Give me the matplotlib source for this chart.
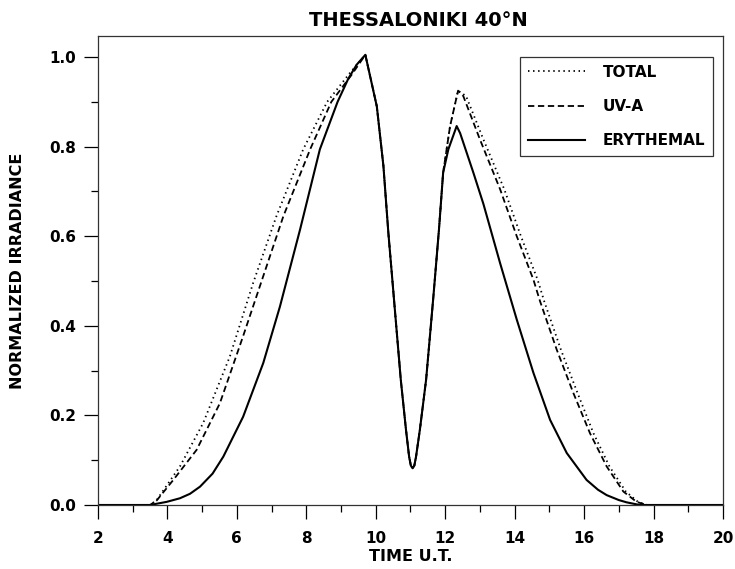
import matplotlib
matplotlib.use('Agg')
import matplotlib.pyplot as plt
from matplotlib.ticker import MultipleLocator

total_t = [2.0, 3.0, 3.5, 3.69, 4.36, 5.03, 5.80, 6.47, 7.14, 7.91, 8.6, 9.26, 9.7,
           10.03, 10.22, 10.36, 10.6, 10.72, 10.87, 10.96, 11.01, 11.06, 11.11, 11.16,
           11.27, 11.45, 11.66, 11.82,
           11.94, 12.14, 12.37, 12.6, 13.1, 13.7, 14.18, 14.66, 14.85, 15.33, 15.81,
           16.27, 16.73, 17.2, 17.55, 17.8, 20.0]
total_v = [0.0, 0.0, 0.0, 0.011, 0.086, 0.183, 0.332, 0.496, 0.645, 0.794, 0.90, 0.965, 1.005,
           0.89, 0.757, 0.61, 0.39, 0.28, 0.168, 0.108, 0.088, 0.082, 0.088, 0.108,
           0.168, 0.28, 0.466, 0.615,
           0.742, 0.846, 0.925, 0.913, 0.816, 0.705, 0.600, 0.503, 0.455, 0.347, 0.250,
           0.160, 0.086, 0.030, 0.007, 0.0, 0.0]

uva_t = [2.0, 3.0, 3.5, 3.69, 4.17, 4.84, 5.51, 6.18, 6.76, 7.34, 8.11, 8.72, 9.3, 9.7,
         10.03, 10.22, 10.36, 10.6, 10.72, 10.87, 10.96, 11.01, 11.06, 11.11, 11.16,
         11.27, 11.45, 11.66, 11.82,
         11.94, 12.14, 12.37, 12.52, 13.0, 13.58, 14.06, 14.54, 14.73, 15.21, 15.69,
         16.17, 16.65, 17.13, 17.51, 17.8, 20.0]
uva_v = [0.0, 0.0, 0.0, 0.010, 0.056, 0.123, 0.227, 0.377, 0.511, 0.645, 0.794, 0.90, 0.96, 1.005,
         0.89, 0.757, 0.61, 0.39, 0.28, 0.168, 0.108, 0.088, 0.082, 0.088, 0.108,
         0.168, 0.28, 0.466, 0.615,
         0.742, 0.846, 0.925, 0.913, 0.816, 0.705, 0.600, 0.503, 0.455, 0.347, 0.250,
         0.160, 0.086, 0.030, 0.007, 0.0, 0.0]

ery_t = [2.0, 3.0, 3.5, 3.98, 4.36, 4.65, 4.94, 5.3, 5.61, 6.18, 6.76, 7.24, 7.82, 8.39, 8.9, 9.21, 9.45, 9.7,
         10.03, 10.22, 10.36, 10.6, 10.72, 10.87, 10.96, 11.01, 11.06, 11.11, 11.16,
         11.27, 11.45, 11.66, 11.82,
         11.94, 12.09, 12.33, 12.43, 12.81, 13.10, 13.58, 14.06, 14.54, 15.02, 15.50,
         16.07, 16.4, 16.65, 17.0, 17.22, 17.6, 20.0]
ery_v = [0.0, 0.0, 0.0, 0.007, 0.015, 0.025, 0.041, 0.07, 0.108, 0.197, 0.317, 0.443, 0.615, 0.794, 0.90, 0.952, 0.983, 1.005,
         0.89, 0.757, 0.61, 0.39, 0.28, 0.168, 0.108, 0.088, 0.082, 0.088, 0.108,
         0.168, 0.28, 0.466, 0.615,
         0.742, 0.794, 0.846, 0.83, 0.742, 0.672, 0.540, 0.414, 0.295, 0.19, 0.116,
         0.056, 0.034, 0.022, 0.011, 0.006, 0.0, 0.0]

series_names = ['TOTAL', 'UV-A', 'ERYTHEMAL']
title_text = 'THESSALONIKI 40°N'

plt.rcParams['font.family'] = 'DejaVu Sans'
plt.rcParams['font.weight'] = 'bold'

fig = plt.figure(figsize=(7.35, 5.69), dpi=100)
ax = fig.add_axes([0.1333, 0.1125, 0.8504, 0.8242])

lw = 1.3
ax.plot(total_t, total_v, color='black', lw=lw, linestyle=(0, (0.8, 2.0)), label=series_names[0])
ax.plot(uva_t, uva_v, color='black', lw=lw, linestyle=(0, (3.5, 2.0)), label=series_names[1])
ax.plot(ery_t, ery_v, color='black', lw=lw + 0.2, linestyle='-', label=series_names[2])

ax.set_xlim(2, 20)
ax.set_ylim(0, 1.047)
ax.xaxis.set_major_locator(MultipleLocator(2))
ax.xaxis.set_minor_locator(MultipleLocator(1))
ax.yaxis.set_major_locator(MultipleLocator(0.2))
ax.yaxis.set_minor_locator(MultipleLocator(0.1))
ax.yaxis.set_major_formatter(plt.FormatStrFormatter('%.1f'))

ax.tick_params(which='major', length=10, width=0.9, direction='out', labelsize=11)
ax.tick_params(which='minor', length=5, width=0.9, direction='out')
ax.tick_params(axis='x', which='major', pad=9)
ax.tick_params(axis='y', which='major', pad=6)
for lab in ax.get_xticklabels() + ax.get_yticklabels():
    lab.set_fontweight('bold')
for sp in ax.spines.values():
    sp.set_linewidth(0.9)
    sp.set_color('#333333')

ax.set_title(title_text, fontsize=14, fontweight='bold', pad=7, x=0.512)
ax.set_xlabel('TIME U.T.', fontsize=11.5, fontweight='bold')
ax.set_ylabel('NORMALIZED IRRADIANCE', fontsize=11.5, fontweight='bold')
ax.xaxis.set_label_coords(0.5, -0.093)
ax.yaxis.set_label_coords(-0.117, 0.5)

leg = ax.legend(loc='upper right', bbox_to_anchor=(0.984, 0.955), borderaxespad=0,
                fancybox=False, edgecolor='#333333', framealpha=1,
                handlelength=3.7, handletextpad=1.2, labelspacing=1.25, borderpad=0.5,
                prop={'weight': 'bold', 'size': 11})
leg.get_frame().set_linewidth(0.9)

fig.savefig('out.png', dpi=100)
